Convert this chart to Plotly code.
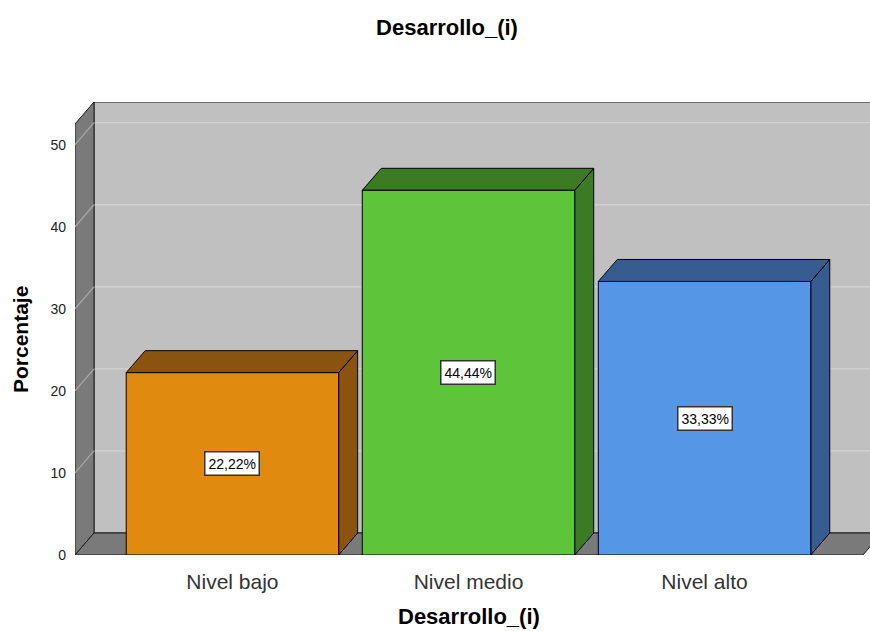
import plotly.graph_objects as go

categories = ["Nivel bajo", "Nivel medio", "Nivel alto"]
values = [22.22, 44.44, 33.33]
labels = ["22,22%", "44,44%", "33,33%"]
y_ticks = [0, 10, 20, 30, 40, 50]

front_colors = ["#E08A10", "#5EC43A", "#5596E6"]
dark_colors = ["#8A5410", "#3C7A24", "#365C90"]

# layout geometry (axis units)
X0, X1 = -0.667, 2.701
Y0, Y1 = 0, 55.2
DX, DY = 0.0805, 2.68
BW = 0.9
FLOOR_RIGHT = 2.671

FONT = "Liberation Sans, Arial"
xs = list(range(len(categories)))

fig = go.Figure()

shapes = []
def poly(pts, fill, line="#1a1a1a", width=1):
    d = "M " + " L ".join(f"{x},{y}" for x, y in pts) + " Z"
    return dict(type="path", path=d, xref="x", yref="y", fillcolor=fill,
                line=dict(color=line, width=width), layer="below")

# back wall
shapes.append(poly([(X0 + DX, DY), (X1 + 0.2, DY), (X1 + 0.2, Y1), (X0 + DX, Y1)], "#C0C0C0"))
# grid lines on back wall
for t in y_ticks[1:]:
    shapes.append(dict(type="line", xref="x", yref="y", x0=X0 + DX, x1=X1 + 0.2,
                       y0=t + DY, y1=t + DY, line=dict(color="#D2D2D2", width=1.3), layer="below"))
# left wall
shapes.append(poly([(X0, 0), (X0 + DX, DY), (X0 + DX, Y1), (X0, Y1 - DY)], "#7A7A7A"))
for t in y_ticks[1:]:
    shapes.append(dict(type="line", xref="x", yref="y", x0=X0, x1=X0 + DX,
                       y0=t, y1=t + DY, line=dict(color="#A8A8A8", width=1.3), layer="below"))
# floor
shapes.append(poly([(X0, 0), (FLOOR_RIGHT, 0), (FLOOR_RIGHT + DX, DY), (X0 + DX, DY)], "#7A7A7A"))

# bar top and side faces
for x, v, dc in zip(xs, values, dark_colors):
    l, r = x - BW / 2, x + BW / 2
    shapes.append(poly([(r, 0), (r + DX, DY), (r + DX, v + DY), (r, v)], dc, line="#000000"))
    shapes.append(poly([(l, v), (r, v), (r + DX, v + DY), (l + DX, v + DY)], dc, line="#000000"))

fig.add_trace(go.Bar(
    x=xs, y=values, width=BW,
    marker=dict(color=front_colors, line=dict(color="#000000", width=1)),
    hoverinfo="skip", showlegend=False,
))

for x, v, lab in zip(xs, values, labels):
    fig.add_annotation(x=x, y=v / 2, xref="x", yref="y", text=lab, showarrow=False,
                       font=dict(family=FONT, size=14, color="#000000"),
                       bgcolor="#FFFFFF", bordercolor="#333333", borderwidth=1.5, borderpad=3)

# axis titles as annotations (pixel-positioned)
PL, PR, PT, PB = 75, 870, 102, 555
def px_x(p):
    return (p - PL) / (PR - PL)
def px_y(p):
    return (PB - p) / (PB - PT)

fig.add_annotation(x=px_x(20), y=px_y(340), xref="paper", yref="paper", text="<b>Porcentaje</b>",
                   showarrow=False, textangle=-90, xanchor="center", yanchor="middle",
                   font=dict(family=FONT, size=21, color="#000000"))
fig.add_annotation(x=px_x(469), y=px_y(616), xref="paper", yref="paper", text="<b>Desarrollo_(i)</b>",
                   showarrow=False, xanchor="center", yanchor="middle",
                   font=dict(family=FONT, size=22, color="#000000"))

fig.update_layout(
    width=870, height=631,
    margin=dict(l=PL, r=870 - PR, t=PT, b=631 - PB),
    paper_bgcolor="#FFFFFF", plot_bgcolor="#FFFFFF",
    title=dict(text="<b>Desarrollo_(i)</b>", x=447 / 870, xanchor="center", xref="container",
               y=1 - 27 / 631, yanchor="middle", yref="container",
               font=dict(family=FONT, size=22, color="#000000")),
    shapes=shapes,
    bargap=0.1,
)

fig.update_xaxes(range=[X0, X1], tickmode="array", tickvals=xs, ticktext=categories,
                 showgrid=False, zeroline=False, showline=False, ticks="",
                 ticklabelstandoff=12,
                 tickfont=dict(family=FONT, size=21, color="#333333"))
fig.update_yaxes(range=[Y0, Y1], tickmode="array", tickvals=y_ticks,
                 showgrid=False, zeroline=False, showline=False, ticks="",
                 ticklabelstandoff=8,
                 tickfont=dict(family=FONT, size=14, color="#222222"))

fig.write_html("out.html")
